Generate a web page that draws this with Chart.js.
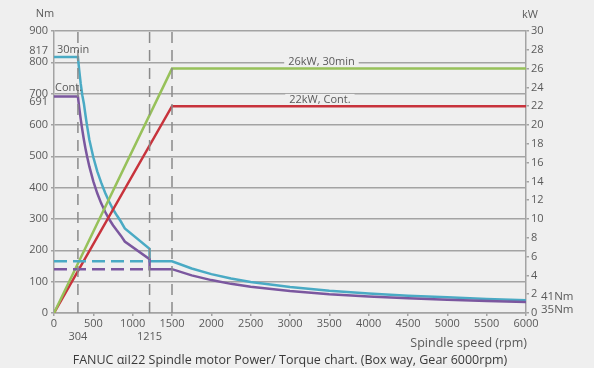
<!DOCTYPE html>
<html>
<head>
<meta charset="utf-8">
<script src="https://cdn.jsdelivr.net/npm/chart.js@4/dist/chart.umd.min.js"></script>
<style>
  html, body { margin: 0; padding: 0; background: #efefef; }
  canvas { display: block; }
</style>
</head>
<body>
<canvas id="chart" width="594" height="368"></canvas>
<script>
// Spindle speed / torque / power.
const speedTicks = [0, 500, 1000, 1500, 2000, 2500, 3000, 3500, 4000, 4500, 5000, 5500, 6000];
const extraSpeedTicks = [304, 1215];
const extraTorqueTicks = [817, 691];
const markerRpm = [304, 1215, 1500];

// 30 min torque (Nm)
const torque30Rpm = [0, 304, 320, 340, 360, 380, 400, 420, 450, 500, 550, 600, 650, 700, 750, 800, 850, 900, 1215, 1215, 1500, 1750, 2000, 2250, 2500, 3000, 3500, 4000, 4500, 5000, 5500, 6000];
const torque30Nm = [817, 817, 776, 731, 695, 668, 632, 598, 552, 497, 452, 416, 384, 356, 331, 311, 292, 270, 205, 165, 165, 142, 124, 110, 99, 83, 71, 62, 55, 50, 45, 41];

// continuous torque (Nm)
const torqueContRpm = [0, 304, 320, 340, 360, 380, 400, 420, 450, 500, 550, 600, 650, 700, 750, 800, 850, 900, 1215, 1215, 1500, 1750, 2000, 2250, 2500, 3000, 3500, 4000, 4500, 5000, 5500, 6000];
const torqueContNm = [691, 691, 656, 618, 584, 553, 525, 500, 467, 420, 382, 350, 323, 300, 280, 263, 247, 228, 172, 140, 140, 120, 105, 93, 84, 70, 60, 53, 47, 42, 38, 35];

// dashed low-speed torque
const dashRpm = [0, 1215];
const dash30Nm = [165, 165];
const dashContNm = [140, 140];

// power (kW)
const powerRpm = [0, 1500, 6000];
const power30Kw = [0, 26, 26];
const powerContKw = [0, 22, 22];

const COLORS = {
  bg: "#efefef",
  grid: "#a3a3a3",
  marker: "#8a8a8a",
  text: "#5a5a5a",
  title: "#3a3a3a",
  cyan: "#4aaac4",
  purple: "#7b579f",
  green: "#97c15a",
  red: "#c8333c",
};
const FONT = "'Open Sans', 'Noto Sans', sans-serif";

const zip = (xs, ys) => xs.map((x, i) => ({ x, y: ys[i] }));

const line = (data, color, extra) => ({
  data, borderColor: color, backgroundColor: color, borderWidth: 2.5,
  pointRadius: 0, tension: 0, fill: false, yAxisID: "y", ...extra,
});

const datasets = [
  ...markerRpm.map((r) => line([{ x: r, y: 0 }, { x: r, y: 900 }], COLORS.marker, { borderWidth: 1.5, borderDash: [11, 7] })),
  line(zip(dashRpm, dash30Nm), COLORS.cyan, { borderDash: [13, 6] }),
  line(zip(dashRpm, dashContNm), COLORS.purple, { borderDash: [13, 6] }),
  line(zip(powerRpm, power30Kw), COLORS.green, { yAxisID: "y2" }),
  line(zip(powerRpm, powerContKw), COLORS.red, { yAxisID: "y2" }),
  line(zip(torqueContRpm, torqueContNm), COLORS.purple),
  line(zip(torque30Rpm, torque30Nm), COLORS.cyan),
];

function text(ctx, str, x, y, align, size, color) {
  ctx.font = size + "px " + FONT;
  ctx.fillStyle = color || COLORS.text;
  ctx.textAlign = align;
  ctx.textBaseline = "middle";
  ctx.fillText(str, x, y);
}

function boxedText(ctx, str, x, y) {
  ctx.font = "11px " + FONT;
  const w = ctx.measureText(str).width + 8;
  ctx.fillStyle = COLORS.bg;
  ctx.fillRect(x - w / 2, y - 6, w, 12);
  text(ctx, str, x, y, "center", 11);
}

const annotations = {
  id: "annotations",
  beforeDatasetsDraw(chart) {
    const { ctx, scales: { x, y } } = chart;
    ctx.save();
    boxedText(ctx, "26kW, 30min", x.getPixelForValue(3400), y.getPixelForValue(800));
    boxedText(ctx, "22kW, Cont.", x.getPixelForValue(3380), y.getPixelForValue(680));
    ctx.restore();
  },
  afterDraw(chart) {
    const { ctx, chartArea: a, scales: { x, y } } = chart;
    ctx.save();
    text(ctx, "Nm", 45, 14, "center", 11);
    text(ctx, "kW", 530, 15, "center", 11);
    text(ctx, String(extraTorqueTicks[0]), 48, y.getPixelForValue(extraTorqueTicks[0]) - 6, "right", 11);
    text(ctx, String(extraTorqueTicks[1]), 48, y.getPixelForValue(extraTorqueTicks[1]) + 5, "right", 11);
    extraSpeedTicks.forEach((r) => text(ctx, String(r), x.getPixelForValue(r), 337, "center", 11));
    text(ctx, "30min", a.left + 3, y.getPixelForValue(840), "left", 11);
    text(ctx, "Cont.", a.left + 1, y.getPixelForValue(717), "left", 11);
    text(ctx, "41Nm", 541, 297, "left", 11.5);
    text(ctx, "35Nm", 541, 310, "left", 11.5);
    text(ctx, "Spindle speed (rpm)", a.right + 1, 343, "right", 12.5);
    text(ctx, "FANUC \u03b1iI22 Spindle motor Power/ Torque chart. (Box way, Gear 6000rpm)", 290, 360, "center", 12.5, COLORS.title);
    ctx.restore();
  },
};

const tickFont = { family: FONT, size: 11 };

new Chart(document.getElementById("chart"), {
  type: "line",
  data: { datasets },
  plugins: [annotations],
  options: {
    responsive: false,
    animation: false,
    layout: { padding: { top: 31, left: 0, right: 0, bottom: 0 } },
    plugins: { legend: { display: false }, tooltip: { enabled: false } },
    scales: {
      x: {
        type: "linear", min: 0, max: 6000,
        afterBuildTicks: (s) => { s.ticks = speedTicks.map((v) => ({ value: v })); },
        afterFit: (s) => { s.height = 55; },
        grid: { drawOnChartArea: false, color: COLORS.grid, tickLength: 3, lineWidth: 1.5 },
        border: { color: COLORS.grid, width: 1.5 },
        ticks: { color: COLORS.text, font: tickFont, padding: 1, maxRotation: 0, autoSkip: false, callback: (v) => String(v) },
      },
      y: {
        position: "left", min: 0, max: 900,
        ticks: { stepSize: 100, color: COLORS.text, font: tickFont, padding: 3 },
        afterFit: (s) => { s.width = 54; },
        grid: { color: COLORS.grid, lineWidth: 1.5, tickLength: 3 },
        border: { color: COLORS.grid, width: 1.5 },
      },
      y2: {
        position: "right", min: 0, max: 30,
        ticks: { stepSize: 2, color: COLORS.text, font: tickFont, padding: 2 },
        afterFit: (s) => { s.width = 68; },
        grid: { drawOnChartArea: false, color: COLORS.grid, tickLength: 3, lineWidth: 1.5 },
        border: { color: COLORS.grid, width: 1.5 },
      },
    },
  },
});
</script>
</body>
</html>
